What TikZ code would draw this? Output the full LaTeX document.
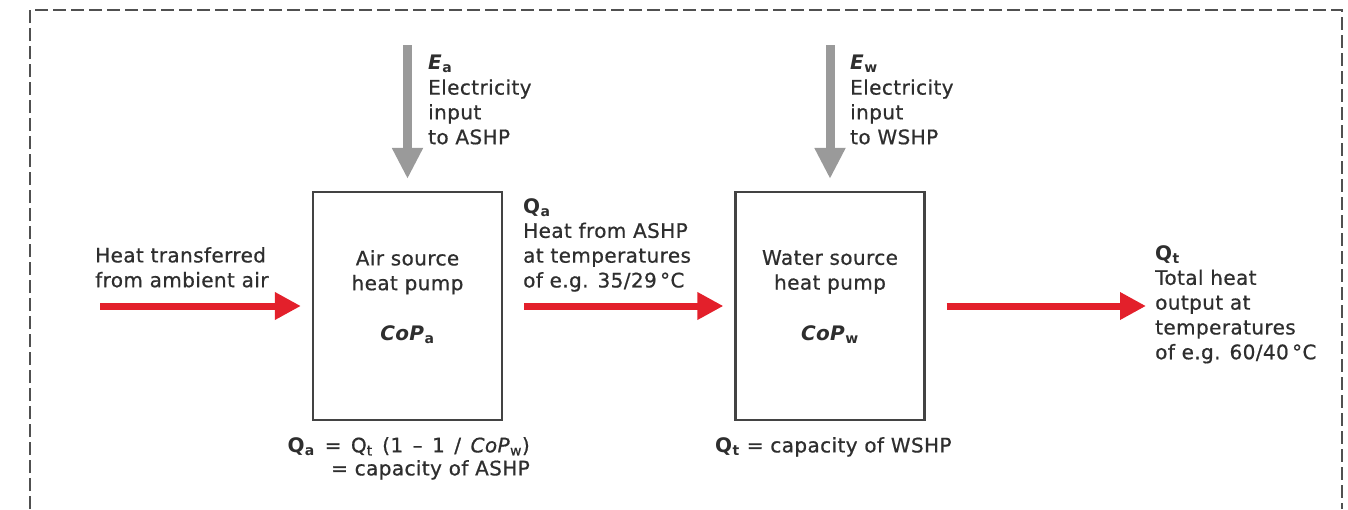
\documentclass[tikz,border=0pt]{standalone}
\usepackage{fontspec}
\setmainfont[LetterSpace=2, UprightFeatures={FakeBold=0.7}, ItalicFeatures={FakeBold=0.7}]{DejaVu Sans}
\usetikzlibrary{arrows.meta}
\definecolor{hpred}{HTML}{E3202B}
\definecolor{hpgrey}{HTML}{9A9A9A}
\definecolor{txt}{HTML}{2E2E2E}
\definecolor{frame}{HTML}{505050}
\newcommand{\sbb}[1]{\textsubscript{\textbf{#1}}}
\tikzset{
  pumpbox/.style={draw=txt!90, line width=2.2pt, minimum width=189pt, minimum height=228pt, inner sep=0pt},
  lbl/.style={text=txt, font=\fontsize{20}{24.8}\selectfont, inner sep=0pt},
  redarrow/.style={draw=hpred, line width=7pt, -{Triangle[width=26pt,length=26pt]}},
  greyarrow/.style={draw=hpgrey, line width=9pt, -{Triangle[width=29pt,length=31pt]}},
}
\begin{document}
\begin{tikzpicture}[x=1pt,y=-1pt]
\useasboundingbox (0,0) rectangle (1348,509);
% frame
\draw[frame, line width=2.5pt, dash pattern=on 13pt off 5pt] (30,509) -- (30,10) -- (1342,10) -- (1342,509);
% boxes
\node[pumpbox] (ashp) at (407.5,306) {};
\node[pumpbox] (wshp) at (830,306) {};
% box texts
\node[lbl, align=center, anchor=north] (ashpt) at (407.5,250) {Air source\\heat pump};
\node[lbl, anchor=base] (copa) at (407.5,340) {\textbf{\textit{CoP}}\sbb{a}};
\node[lbl, align=center, anchor=north] (wshpt) at (830,250) {Water source\\heat pump};
\node[lbl, anchor=base] (copw) at (830,340) {\textbf{\textit{CoP}}\sbb{w}};
% coordinates
\coordinate (inL) at (100,306);
\coordinate (outR) at (1146,306);
\coordinate (eaT) at (407.5,45);
\coordinate (ewT) at (830,45);
% arrows
\draw[redarrow] (inL) -- ([xshift=-11pt]ashp.west);
\draw[redarrow] ([xshift=21pt]ashp.east) -- ([xshift=-11pt]wshp.west);
\draw[redarrow] ([xshift=21pt]wshp.east) -- (outR);
\draw[greyarrow] (eaT) -- ([yshift=12pt]ashp.north);
\draw[greyarrow] (ewT) -- ([yshift=12pt]wshp.north);
% labels
\node[lbl, align=left, anchor=north west] (inlbl) at (95,247) {Heat transferred\\from ambient air};
\node[lbl, align=left, anchor=north west] (ealbl) at (428,55) {\textbf{\textit{E}}\sbb{a}\\Electricity\\input\\to ASHP};
\node[lbl, align=left, anchor=north west] (ewlbl) at (850,55) {\textbf{\textit{E}}\sbb{w}\\Electricity\\input\\to WSHP};
\node[lbl, align=left, anchor=north west] (qalbl) at (523,198) {\textbf{Q}\sbb{a}\\Heat from ASHP\\at temperatures\\of e.g. 35/29\,°C};
\node[lbl, align=left, anchor=north west] (qtlbl) at (1155,245) {\textbf{Q}\sbb{t}\\Total heat\\output at\\temperatures\\of e.g. 60/40\,°C};
\node[lbl, font=\fontsize{20}{23}\selectfont, align=right, anchor=north east] (fa) at (530,437) {{\spaceskip=9.5pt\relax\textbf{Q}\sbb{a} = Q\textsubscript{t} (1 – 1 / \textit{CoP}\textsubscript{w})}\\= capacity of ASHP};
\node[lbl, align=left, anchor=north west] (fw) at (715,437) {\textbf{Q}\sbb{t} = capacity of WSHP};
\end{tikzpicture}
\end{document}
